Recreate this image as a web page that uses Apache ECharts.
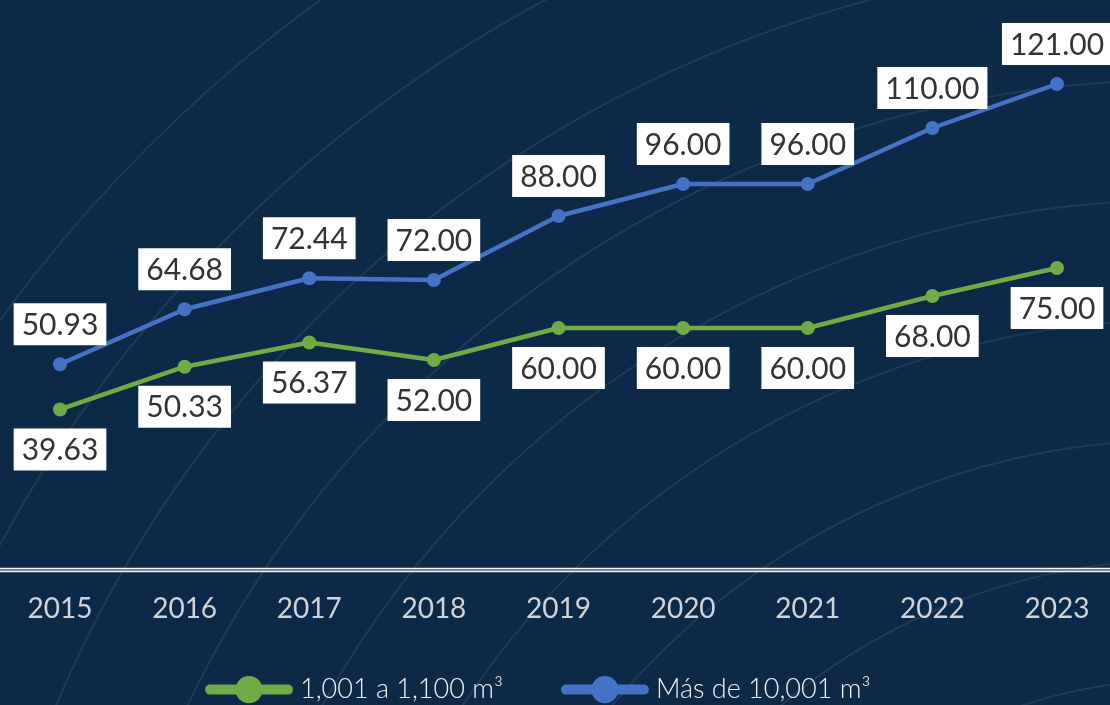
<!DOCTYPE html>
<html lang="es">
<head>
    <meta charset="UTF-8">
    <title>Tarifas</title>
    <script src="https://cdn.jsdelivr.net/npm/echarts@6/dist/echarts.min.js"></script>
    <style>
        html, body { margin: 0; padding: 0; background: #0c2948; }
    </style>
</head>
<body>
<div id="main" style="width: 1110px;height:705px;"></div>
<script type="text/javascript">
    // datos
    var years = ['2015', '2016', '2017', '2018', '2019', '2020', '2021', '2022', '2023'];
    var smallUse = [39.63, 50.33, 56.37, 52.00, 60.00, 60.00, 60.00, 68.00, 75.00];
    var bigUse = [50.93, 64.68, 72.44, 72.00, 88.00, 96.00, 96.00, 110.00, 121.00];
    var seriesNames = ['1,001 a 1,100 m³', 'Más de 10,001 m³'];

    var myChart = echarts.init(document.getElementById('main'));

    // arcos decorativos del fondo + linea base a todo lo ancho
    var deco = [];
    var radii = [500, 620, 740, 860, 980, 1100, 1220, 1340, 1460];
    radii.forEach(function (r) {
        deco.push({
            type: 'circle',
            silent: true,
            z: -1,
            shape: { cx: 1180, cy: 1180, r: r },
            style: { fill: 'none', stroke: 'rgba(255,255,255,0.08)', lineWidth: 2 }
        });
    });
    [568.5, 571.5].forEach(function (y) {
        deco.push({
            type: 'line',
            silent: true,
            shape: { x1: 0, y1: y, x2: 1110, y2: y },
            style: { stroke: '#f2f2f2', lineWidth: 1.4 }
        });
    });
    deco.push({
        type: 'line',
        silent: true,
        shape: { x1: 0, y1: 570, x2: 1110, y2: 570 },
        style: { stroke: '#8a9aae', lineWidth: 1.6 }
    });

    function labelOf(pos) {
        return {
            show: true,
            position: pos,
            distance: 12,
            formatter: function (p) { return p.value.toFixed(2); },
            backgroundColor: '#ffffff',
            color: '#333333',
            fontFamily: 'Lato',
            fontSize: 30,
            padding: [7, 8, 5, 8]
        };
    }

    myChart.setOption({
        backgroundColor: '#0c2948',
        graphic: deco,
        grid: { left: 60, right: 53, top: 8, bottom: 137 },
        legend: {
            data: seriesNames,
            top: 671,
            left: 200,
            itemWidth: 78,
            itemHeight: 34,
            itemGap: 58,
            formatter: function (name) { return '{t|' + name + '}'; },
            textStyle: {
                color: '#f0f0f0', fontSize: 27, fontFamily: 'Lato', fontWeight: 300,
                rich: { t: { color: '#f0f0f0', fontSize: 27, fontFamily: 'Lato', fontWeight: 300, padding: [0, 0, 0, 7] } }
            },
            lineStyle: { width: 10, cap: 'round' }
        },
        xAxis: {
            type: 'category',
            data: years,
            boundaryGap: false,
            axisLine: { show: false },
            axisTick: { show: false },
            axisLabel: { color: '#d0d3d8', fontSize: 28, fontFamily: 'Lato', margin: 27 }
        },
        yAxis: {
            type: 'value',
            min: 0,
            max: 140,
            show: false,
            splitLine: { show: false }
        },
        series: [{
            name: seriesNames[0],
            type: 'line',
            data: smallUse,
            color: '#6fac46',
            symbol: 'circle',
            symbolSize: 14,
            lineStyle: { width: 4.5 },
            label: labelOf('bottom')
        }, {
            name: seriesNames[1],
            type: 'line',
            data: bigUse,
            color: '#4472c4',
            symbol: 'circle',
            symbolSize: 14,
            lineStyle: { width: 4.5 },
            label: labelOf('top')
        }]
    });
</script>
</body>
</html>
